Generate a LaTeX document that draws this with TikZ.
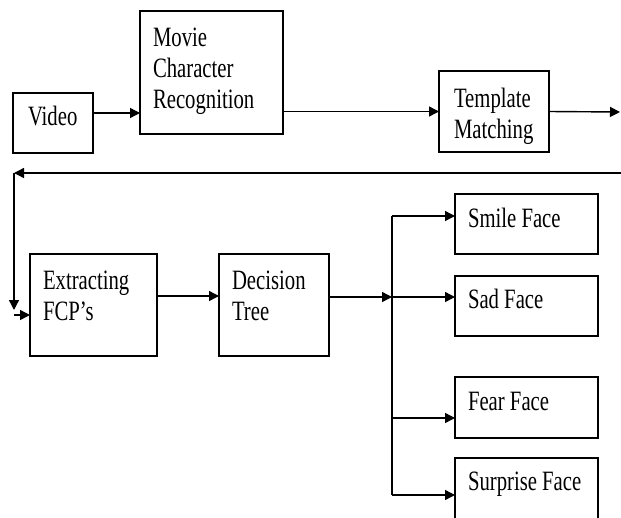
\documentclass[tikz,border=0pt]{standalone}
\usepackage{fontspec}
\newfontfamily\tnr[FakeStretch=0.74]{Liberation Serif}
\usetikzlibrary{arrows.meta}
\tikzset{
  box/.style={draw, line width=1.4pt, rectangle, inner sep=0pt, outer sep=0pt, anchor=north west},
  txt/.style={inner sep=0pt, outer sep=0pt, anchor=base west, align=left, font=\tnr\fontsize{28}{31}\selectfont},
  arr/.style={line width=1.4pt, -{Triangle[length=10pt,width=10pt]}},
  ln/.style={line width=1.4pt}
}
\begin{document}
\begin{tikzpicture}[x=1pt,y=-1pt]
\clip (0,0) rectangle (621,517);
\fill[white] (0,0) rectangle (621,517);
% boxes
\node[box, minimum width=80pt, minimum height=60pt] (video) at (13,93) {};
\node[box, minimum width=143pt, minimum height=123pt] (mcr) at (140,11) {};
\node[box, minimum width=110pt, minimum height=81pt] (tm) at (439,71) {};
\node[box, minimum width=127pt, minimum height=102pt] (ext) at (30,254) {};
\node[box, minimum width=110pt, minimum height=102pt] (dt) at (219,254) {};
\node[box, minimum width=143pt, minimum height=60pt] (smile) at (455,194) {};
\node[box, minimum width=143pt, minimum height=60pt] (sad) at (455,276) {};
\node[box, minimum width=143pt, minimum height=61pt] (fear) at (455,377) {};
\node[box, minimum width=143pt, minimum height=100pt] (surp) at (455,458) {};
% texts (base = baseline of last line)
\node[txt] (videot) at (28,125) {Video};
\node[txt] (mcrt) at (153,108) {Movie\\Character\\Recognition};
\node[txt] (tmt) at (454,138) {Template\\Matching};
\node[txt] (extt) at (43,320) {Extracting\\FCP’s};
\node[txt] (dtt) at (232,320) {Decision\\Tree};
\node[txt] (smilet) at (468,227) {Smile Face};
\node[txt] (sadt) at (468,308) {Sad Face};
\node[txt] (feart) at (468,410) {Fear Face};
\node[txt] (surpt) at (468,490) {Surprise Face};
% coordinates
\coordinate (out) at (620,112);
\coordinate (r1) at (621,173);
\coordinate (r2) at (14,173);
\coordinate (r3) at (14,310);
\coordinate (r4) at (14,315);
\coordinate (bus) at (392,297);
\coordinate (bt) at (392,216);
\coordinate (bb) at (392,495);
% connectors
\draw[arr] ([yshift=10pt]video.east) coordinate (a1) -- (a1 -| mcr.west);
\draw[arr] (mcr.east |- tm.west) -- (tm.west);
\draw[arr] (tm.east) -- (out);
\draw[arr] (r1) -- (r2);
\draw[arr] (r2) -- (r3);
\draw[arr] (r4) -- (r4 -| ext.west);
\draw[arr] ([yshift=9pt]ext.east) coordinate (a2) -- (a2 -| dt.west);
\draw[arr] (dt.east |- bus) -- (bus);
\draw[ln] (bt) -- (bb);
\draw[arr] (bt) -- (bt -| smile.west);
\draw[arr] (bus) -- (bus -| sad.west);
\draw[arr] (392,418) coordinate (a3) -- (a3 -| fear.west);
\draw[arr] (bb) -- (bb -| surp.west);
\end{tikzpicture}
\end{document}
